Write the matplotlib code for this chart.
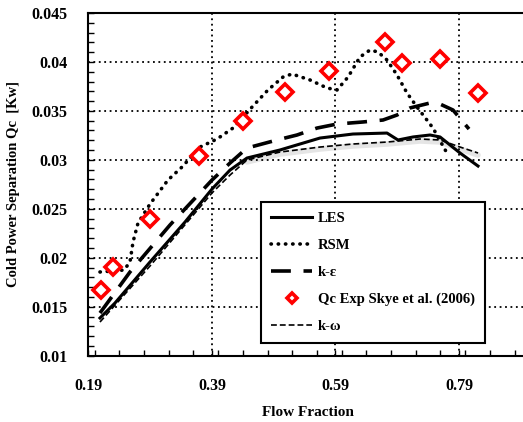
import numpy as np
import matplotlib
matplotlib.use('Agg')
import matplotlib.pyplot as plt
from matplotlib.ticker import MultipleLocator, FixedLocator, FuncFormatter

plt.rcParams['font.family'] = ['Liberation Serif', 'DejaVu Serif']
plt.rcParams['font.weight'] = 'bold'

# LES
les_x = [0.2086, 0.2329, 0.2896, 0.3463, 0.39, 0.4192, 0.4467, 0.5001, 0.5649,
         0.6183, 0.6734, 0.6912, 0.7156, 0.7431, 0.7593, 0.7917, 0.8208]
les_y = [0.01385, 0.01538, 0.01957, 0.02365, 0.02702, 0.02896, 0.03019, 0.03101, 0.03223,
         0.03264, 0.03274, 0.03203, 0.03234, 0.03254, 0.03234, 0.0307, 0.02937]

# RSM
rsm_x = [0.2086, 0.2475, 0.2572, 0.2621, 0.2702, 0.2896, 0.3187, 0.3414, 0.3706, 0.3981,
         0.424, 0.4564, 0.4807, 0.505, 0.5196, 0.5487, 0.5763, 0.5925, 0.6103, 0.6297,
         0.6459, 0.6588, 0.6734, 0.6896, 0.7058, 0.722, 0.7479, 0.7722]
rsm_y = [0.01855, 0.01875, 0.01957, 0.02161, 0.02355, 0.02549, 0.02794, 0.02927, 0.03131, 0.03213,
         0.03325, 0.0355, 0.03714, 0.03846, 0.03877, 0.03816, 0.03734, 0.03714, 0.03846, 0.04051,
         0.04122, 0.04102, 0.0402, 0.03867, 0.03683, 0.0354, 0.03325, 0.0305]

# k-epsilon
ke_x = [0.2086, 0.2572, 0.322, 0.39, 0.4192, 0.4467, 0.4953, 0.5277, 0.5601, 0.5925,
        0.6345, 0.6669, 0.6896, 0.7106, 0.7431, 0.7593, 0.7803, 0.8062]
ke_y = [0.01436, 0.01855, 0.02335, 0.02794, 0.02968, 0.03121, 0.03203, 0.03254, 0.03325, 0.03366,
        0.03387, 0.03407, 0.03458, 0.0353, 0.03581, 0.0357, 0.03509, 0.03315]

# k-omega
kw_x = [0.2086, 0.2896, 0.39, 0.4192, 0.4467, 0.5001, 0.5649, 0.6183, 0.6734, 0.7269,
        0.7593, 0.7917, 0.8208]
kw_y = [0.01344, 0.01916, 0.02662, 0.02845, 0.02999, 0.0308, 0.03131, 0.03162, 0.03182, 0.03213,
        0.03203, 0.03131, 0.0307]

# experiment (Skye et al. 2006)
exp_x = [0.210, 0.230, 0.289, 0.3685, 0.440, 0.508, 0.579, 0.670, 0.698, 0.760, 0.821]
exp_y = [0.0167, 0.0191, 0.0240, 0.0304, 0.0340, 0.0369, 0.0391, 0.0420, 0.0399, 0.0403, 0.0368]

xticks = [0.19, 0.39, 0.59, 0.79]
yticks = [0.01, 0.015, 0.02, 0.025, 0.03, 0.035, 0.04, 0.045]

fig = plt.figure(figsize=(5.23, 4.22), dpi=100)
ax = fig.add_axes([0.1692, 0.1571, 0.8383, 0.8121])

# soft shadow under the k-omega curve
ax.plot(kw_x[4:], np.array(kw_y[4:]) - 0.0002, color='0.75', lw=4, alpha=0.4,
        solid_capstyle='round', zorder=1)

ax.plot(les_x, les_y, color='black', lw=2.2, label='LES', zorder=3)
ax.plot(rsm_x, rsm_y, color='black', lw=2.6, linestyle=(0, (0.1, 1.9)),
        dash_capstyle='round', label='RSM', zorder=3)
ax.plot(ke_x, ke_y, color='black', lw=2.6, linestyle=(0, (5.5, 3.5)), label='k-ε', zorder=3)
ax.plot(exp_x, exp_y, linestyle='none', marker='D', ms=8.5, mfc='white', mec='red', mew=2.6,
        label='Qc Exp Skye et al. (2006)', zorder=4)
ax.plot(kw_x, kw_y, color='black', lw=1.2, linestyle=(0, (3.5, 1.8)), label='k-ω', zorder=3)

ax.set_xlim(0.19, 0.9)
ax.set_ylim(0.01, 0.045)
ax.xaxis.set_major_locator(FixedLocator(xticks))
ax.yaxis.set_major_locator(FixedLocator(yticks))
ax.xaxis.set_minor_locator(MultipleLocator(0.04))
ax.yaxis.set_minor_locator(MultipleLocator(0.001))
ax.xaxis.set_major_formatter(FuncFormatter(lambda v, p: '%g' % round(v, 3)))
ax.yaxis.set_major_formatter(FuncFormatter(lambda v, p: '%g' % round(v, 3)))
ax.tick_params(which='both', direction='in', length=4, width=1, labelsize=11.5)
ax.tick_params(axis='x', which='major', pad=16)
ax.tick_params(axis='y', which='major', pad=15)

ax.grid(True, which='major', color='black', linestyle=(0, (1, 2)), lw=1.3)
ax.grid(False, which='minor')
# no grid lines on the frame edges
ax.get_xgridlines()[0].set_visible(False)
ax.get_ygridlines()[0].set_visible(False)
ax.get_ygridlines()[-1].set_visible(False)

for s in ax.spines.values():
    s.set_linewidth(1.5)

ax.set_xlabel('Flow Fraction', fontsize=11, fontweight='bold', labelpad=9)
ax.set_ylabel('Cold Power Separation Qc  [Kw]', fontsize=10.5, fontweight='bold', labelpad=8)

leg = ax.legend(loc='upper left', bbox_to_anchor=(0.3935, 0.449), fontsize=10.5,
                frameon=True, fancybox=False, edgecolor='black', framealpha=1,
                handlelength=2.8, labelspacing=0.93, borderpad=0.7, handletextpad=0.4,
                borderaxespad=0, markerscale=0.65)
leg.get_frame().set_linewidth(1.5)
for t in leg.get_texts():
    t.set_fontweight('bold')

fig.savefig('out.png', dpi=100)
